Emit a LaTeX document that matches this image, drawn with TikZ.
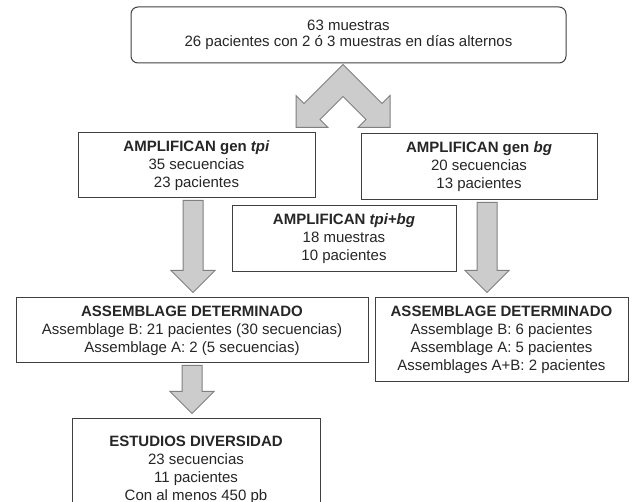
\documentclass[tikz,border=0pt]{standalone}
\usepackage{fontspec}
\setmainfont{Liberation Sans}
\usetikzlibrary{calc}

% block arrow pointing down, shaft on the x of #1, tip just above #2
\newcommand{\blockdown}[2]{%
  \draw[bigarrow] let \p1=(#1), \p2=(#2) in
    (\x1-10,\y1-2) -- (\x1+10,\y1-2) -- (\x1+10,\y2+27) -- (\x1+22,\y2+27)
    -- (\x1,\y2+5) -- (\x1-22,\y2+27) -- (\x1-10,\y2+27) -- cycle;
}

\begin{document}
\begin{tikzpicture}[x=1pt, y=-1pt,
    box/.style={draw=black!75, line width=1pt, fill=white, align=center, inner sep=0pt,
      text=black!85, font=\fontsize{15}{18}\selectfont},
    bigarrow/.style={draw=black!50, line width=1pt, fill=black!20, line join=miter}]
    \useasboundingbox (0,0) rectangle (635,502);
    \clip (0,0) rectangle (635,502);

    \node[box, rounded corners=7pt, minimum width=435, minimum height=56,
        font=\fontsize{15}{16.5}\selectfont] (top) at (348.5,35)
        {63 muestras\\26 pacientes con 2 ó 3 muestras en días alternos};
    \node[box, minimum width=237, minimum height=65] (tpi) at (196.5,165.5)
        {\textbf{AMPLIFICAN gen \textit{tpi}}\\35 secuencias\\23 pacientes};
    \node[box, minimum width=236, minimum height=66] (bg) at (479,167)
        {\textbf{AMPLIFICAN gen \textit{bg}}\\20 secuencias\\13 pacientes};
    \node[box, minimum width=224, minimum height=66] (both) at (344,239)
        {\textbf{AMPLIFICAN \textit{tpi+bg}}\\18 muestras\\10 pacientes};
    \node[box, minimum width=352, minimum height=65] (asmL) at (192,330.5)
        {\textbf{ASSEMBLAGE DETERMINADO}\\Assemblage B: 21 pacientes (30 secuencias)\\Assemblage A: 2 (5 secuencias)};
    \node[box, minimum width=253, minimum height=84] (asmR) at (501.5,340)
        {\textbf{ASSEMBLAGE DETERMINADO}\\Assemblage B: 6 pacientes\\Assemblage A: 5 pacientes\\Assemblages A+B: 2 pacientes};
    \node[box, minimum width=248, minimum height=101] (div) at (196,469.5)
        {\textbf{ESTUDIOS DIVERSIDAD}\\23 secuencias\\11 pacientes\\Con al menos 450 pb};

    % split arrow under the first box
    \draw[bigarrow, shift={($(top.south)+(-5.5,1)$)}]
        (0,0) -- (-39,39) -- (-47,31) -- (-47,63) -- (-15,63) -- (-23,55) -- (0,32)
        -- (23,55) -- (15,63) -- (47,63) -- (47,31) -- (39,39) -- cycle;

    \blockdown{$(tpi.south)+(-3.5,0)$}{asmL.north}
    \blockdown{$(bg.south)+(8,0)$}{asmR.north}
    \blockdown{asmL.south}{div.north}
\end{tikzpicture}
\end{document}
